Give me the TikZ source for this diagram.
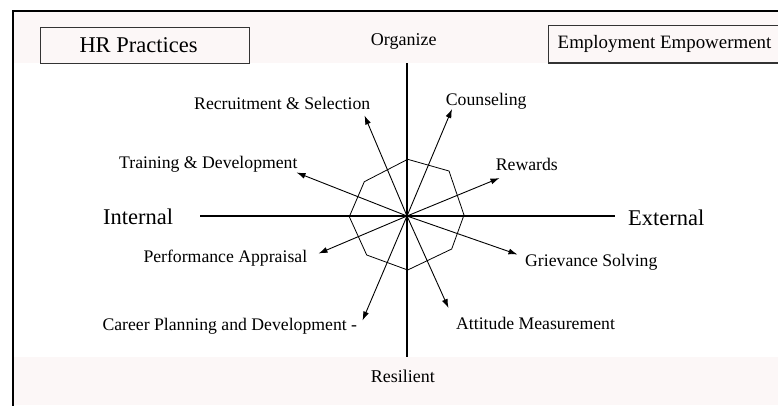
\documentclass[tikz,border=0pt]{standalone}
\usepackage{fontspec}
\setmainfont{Liberation Serif}
\usetikzlibrary{arrows.meta}

\definecolor{bandpink}{RGB}{252,247,247}

\tikzset{
    lbl/.style={anchor=base west, inner sep=0pt, font=\fontsize{17.7}{20}\selectfont},
    biglbl/.style={anchor=base west, inner sep=0pt, font=\fontsize{22.5}{26}\selectfont},
    spoke/.style={line width=0.9pt, -{Latex[length=9pt,width=6pt]}},
    axis/.style={line width=2.8pt},
    hbox/.style={line width=1.1pt, black!80},
}

\begin{document}
\begin{tikzpicture}[x=1pt,y=-1pt]
    \useasboundingbox (0,0) rectangle (778,405);

    % frame and shaded bands
    \fill[bandpink] (14,12) rectangle (778,63);
    \fill[bandpink] (14,357) rectangle (778,405);
    \draw[line width=2.2pt] (12.7,406) -- (12.7,11) -- (779,11);

    % header boxes
    \draw[hbox] (40.7,27.3) rectangle (249.3,63.3);
    \node[biglbl] (hr) at (79.3,52.7) {HR Practices};
    \draw[hbox] (548.3,25.5) rectangle (781,63);
    \node[lbl, font=\fontsize{18.9}{22}\selectfont] (emp) at (557.5,48) {Employment Empowerment};

    % axes
    \coordinate (o) at (407,216);
    \coordinate (top) at (407,63);
    \coordinate (bot) at (407,357);
    \coordinate (lft) at (200,216);
    \coordinate (rgt) at (615,216);
    \draw[axis] (top) -- (bot);
    \draw[axis] (lft) -- (rgt);

    \node[lbl, font=\fontsize{18}{20}\selectfont] (org) at (370.7,45) {Organize};
    \node[lbl, font=\fontsize{18}{20}\selectfont] (res) at (370.7,382.7) {Resilient};
    \node[biglbl] (int) at (103,224) {Internal};
    \node[biglbl] (ext) at (628,225) {External};

    % octagon round the origin
    \draw[line width=0.8pt] (407.7,159.3) -- (449,171) -- (464,215) -- (451.7,249)
        -- (407.7,270) -- (366.7,255) -- (349.3,216.7) -- (364.3,181.7) -- cycle;

    % arrow tips
    \coordinate (rs) at (364.5,115.5);
    \coordinate (td) at (296.5,172.5);
    \coordinate (co) at (452,109);
    \coordinate (rw) at (499.5,178);
    \coordinate (pa) at (318.5,253.5);
    \coordinate (cp) at (362.5,320.5);
    \coordinate (gs) at (517.5,254.5);
    \coordinate (am) at (448.5,308);

    \foreach \p in {rs,td,co,rw,pa,cp,gs,am}
        \draw[spoke] (o) -- (\p);

    \node[lbl] (rsl) at (194,109.3) {Recruitment \& Selection};
    \node[lbl] (tdl) at (119,168.3) {Training \& Development};
    \node[lbl] (col) at (445.7,105) {Counseling};
    \node[lbl] (rwl) at (495.7,170) {Rewards};
    \node[lbl] (pal) at (143.3,262.3) {Performance Appraisal};
    \node[lbl] (cpl) at (102.3,330) {Career Planning and Development -};
    \node[lbl] (gsl) at (525,266.5) {Grievance Solving};
    \node[lbl] (aml) at (456,329.3) {Attitude Measurement};

\end{tikzpicture}
\end{document}
